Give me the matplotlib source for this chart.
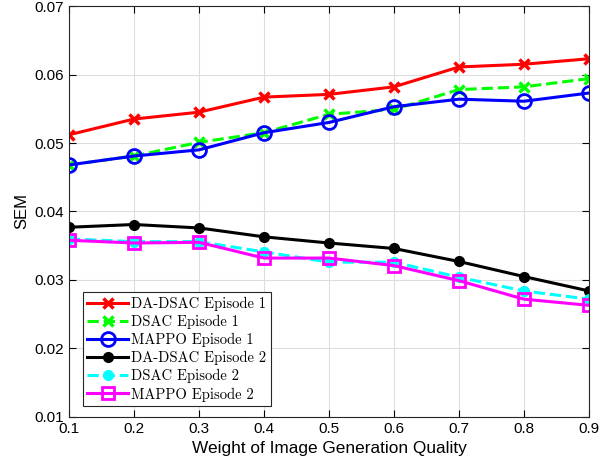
import matplotlib
matplotlib.use('Agg')
import matplotlib.pyplot as plt

# 数据
weights = [0.1, 0.2, 0.3, 0.4, 0.5, 0.6, 0.7, 0.8, 0.9]
dadsac_ep1 = [0.0512, 0.0535, 0.0545, 0.0567, 0.0571, 0.0582, 0.0611, 0.0615, 0.0623]
dsac_ep1 = [0.0468, 0.0481, 0.0501, 0.0515, 0.0542, 0.0549, 0.0578, 0.0582, 0.0594]
mappo_ep1 = [0.0468, 0.0481, 0.0490, 0.0515, 0.0530, 0.0553, 0.0564, 0.0561, 0.0573]
dadsac_ep2 = [0.0377, 0.0381, 0.0376, 0.0363, 0.0354, 0.0346, 0.0327, 0.0305, 0.0284]
dsac_ep2 = [0.0360, 0.0356, 0.0356, 0.0341, 0.0326, 0.0326, 0.0304, 0.0284, 0.0272]
mappo_ep2 = [0.0358, 0.0354, 0.0355, 0.0332, 0.0332, 0.0321, 0.0299, 0.0272, 0.0263]

plt.rcParams['font.family'] = ['Liberation Sans', 'DejaVu Sans']

fig = plt.figure(figsize=(6.02, 4.74), dpi=100)
ax = fig.add_axes([0.1146, 0.1203, 0.8638, 0.867])

lw = 2.2
ax.plot(weights, dadsac_ep1, color='red', linestyle='-', linewidth=lw,
        marker='x', markersize=7, markeredgewidth=2.5, label='DA-DSAC Episode 1')
ax.plot(weights, dsac_ep1, color='#00ff00', linestyle='--', linewidth=lw,
        marker='x', markersize=7, markeredgewidth=2.5, label='DSAC Episode 1')
ax.plot(weights, mappo_ep1, color='blue', linestyle='-', linewidth=lw,
        marker='o', markersize=10, markeredgewidth=2, markerfacecolor='none',
        label='MAPPO Episode 1')
ax.plot(weights, dadsac_ep2, color='black', linestyle='-', linewidth=lw,
        marker='o', markersize=7, label='DA-DSAC Episode 2')
ax.plot(weights, dsac_ep2, color='cyan', linestyle='--', linewidth=lw,
        marker='o', markersize=7, label='DSAC Episode 2')
ax.plot(weights, mappo_ep2, color='magenta', linestyle='-', linewidth=lw,
        marker='s', markersize=9, markeredgewidth=2, markerfacecolor='none',
        label='MAPPO Episode 2')

ax.set_xlim(0.1, 0.9)
ax.set_ylim(0.01, 0.07)
ax.set_xticks(weights)
ax.set_xticklabels(['%.1f' % w for w in weights])
ax.set_yticks([0.01, 0.02, 0.03, 0.04, 0.05, 0.06, 0.07])
ax.set_yticklabels(['0.01', '0.02', '0.03', '0.04', '0.05', '0.06', '0.07'])
ax.tick_params(direction='in', top=True, right=True, labelsize=11, length=5)
ax.grid(True, color='#dddddd', linewidth=0.8)
ax.set_axisbelow(True)
for s in ax.spines.values():
    s.set_color('#262626')

ax.set_xlabel('Weight of Image Generation Quality', fontsize=12.4)
ax.set_ylabel('SEM', fontsize=12)

leg = ax.legend(loc='lower left', bbox_to_anchor=(0.027, 0.027),
                prop={'family': 'cmr10', 'size': 10.5}, fancybox=False,
                framealpha=1, edgecolor='#262626', handlelength=2.8,
                borderpad=0.3, labelspacing=0.27, handletextpad=0.2,
                borderaxespad=0)
leg.get_frame().set_linewidth(0.8)

plt.savefig('out.png', dpi=100)
plt.close()
